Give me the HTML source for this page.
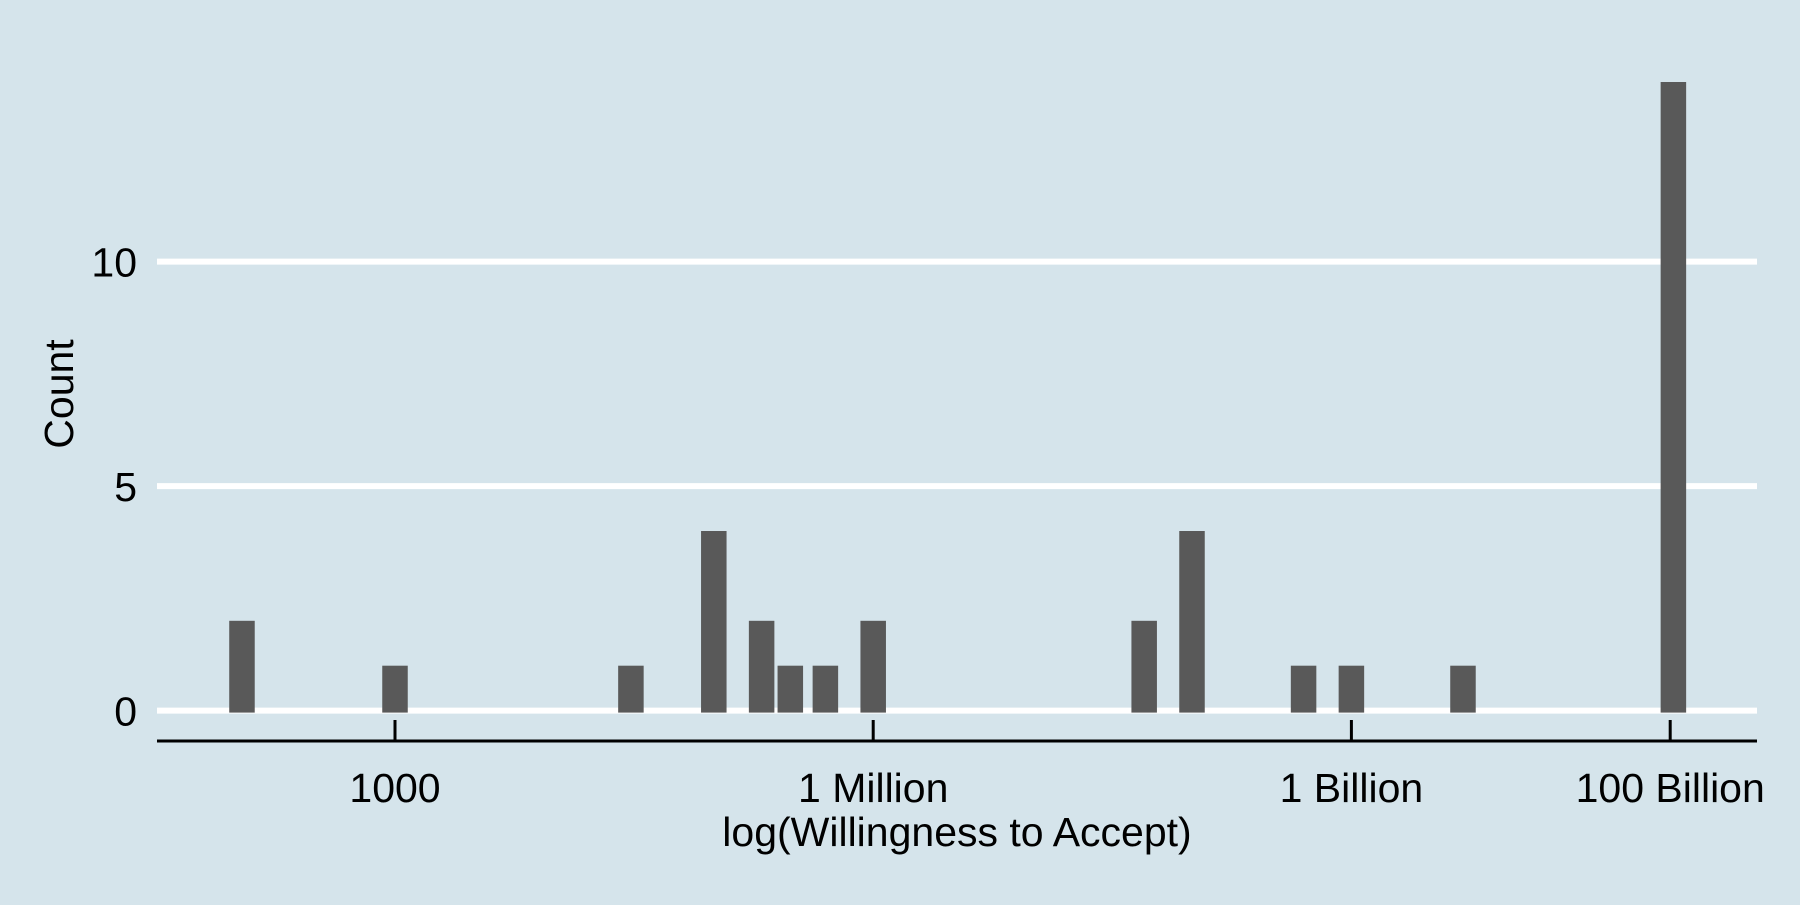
<!DOCTYPE html>
<html><head><meta charset="utf-8"><style>
html,body{margin:0;padding:0;background:#d5e4eb;}
svg text{font-family:"Liberation Sans",sans-serif;fill:#000;}
</style></head><body>
<svg id="chart" width="1800" height="900" viewBox="0 0 1800 900" xmlns="http://www.w3.org/2000/svg">
<rect x="0" y="0" width="1800" height="900" fill="#d5e4eb"/>
<g id="grid"></g>
<g id="bars"></g>
<g id="xaxis"></g>
<g id="yaxis"></g>
<text x="957" y="846" font-size="41" text-anchor="middle">log(Willingness to Accept)</text>
<text transform="translate(73,394) rotate(-90)" font-size="41" text-anchor="middle">Count</text>
</svg>
<script>
const binCenters = [2.04, 3.0, 4.48, 5.0, 5.30, 5.48, 5.70, 6.0, 7.70, 8.0, 8.70, 9.0, 9.70, 11.02];
const counts = [2, 1, 1, 4, 2, 1, 1, 2, 2, 4, 1, 1, 1, 14];
const xTickValues = [3, 6, 9, 11];
const xTickLabels = ["1000", "1 Million", "1 Billion", "100 Billion"];
const yTickValues = [0, 5, 10];

const NS = "http://www.w3.org/2000/svg";
const x = v => 395 + (v - 3) * 159.4;
const y = v => 710.6 - v * 44.9;
const barW = 0.16 * 159.4;
function mk(tag, attrs, parent) {
  const e = document.createElementNS(NS, tag);
  for (const k in attrs) e.setAttribute(k, attrs[k]);
  parent.appendChild(e);
  return e;
}
const grid = document.getElementById('grid');
const yaxis = document.getElementById('yaxis');
yTickValues.forEach(v => {
  const l = mk('line', {x1: 157, x2: 1757, y1: y(v), y2: y(v), stroke: '#fff', 'stroke-width': 6}, grid);
  
  
  const t = mk('text', {x: 137, y: y(v) + 15, 'font-size': 41, 'text-anchor': 'end'}, yaxis);
  t.textContent = String(v);
  
  
});
const bars = document.getElementById('bars');
binCenters.forEach((c, i) => {
  const r = mk('rect', {x: x(c) - barW / 2, y: y(counts[i]), width: barW, height: y(0) - y(counts[i]) + 2, fill: '#595959'}, bars);
  
  
});
const xaxis = document.getElementById('xaxis');
const al = mk('line', {x1: 157, x2: 1757, y1: 741, y2: 741, stroke: '#000', 'stroke-width': 3}, xaxis);


xTickValues.forEach((v, i) => {
  const tk = mk('line', {x1: x(v), x2: x(v), y1: 720, y2: 741, stroke: '#000', 'stroke-width': 3}, xaxis);
  
  
  const t = mk('text', {x: x(v), y: 802, 'font-size': 41, 'text-anchor': 'middle'}, xaxis);
  t.textContent = xTickLabels[i];
  
  
});
</script>
</body></html>
